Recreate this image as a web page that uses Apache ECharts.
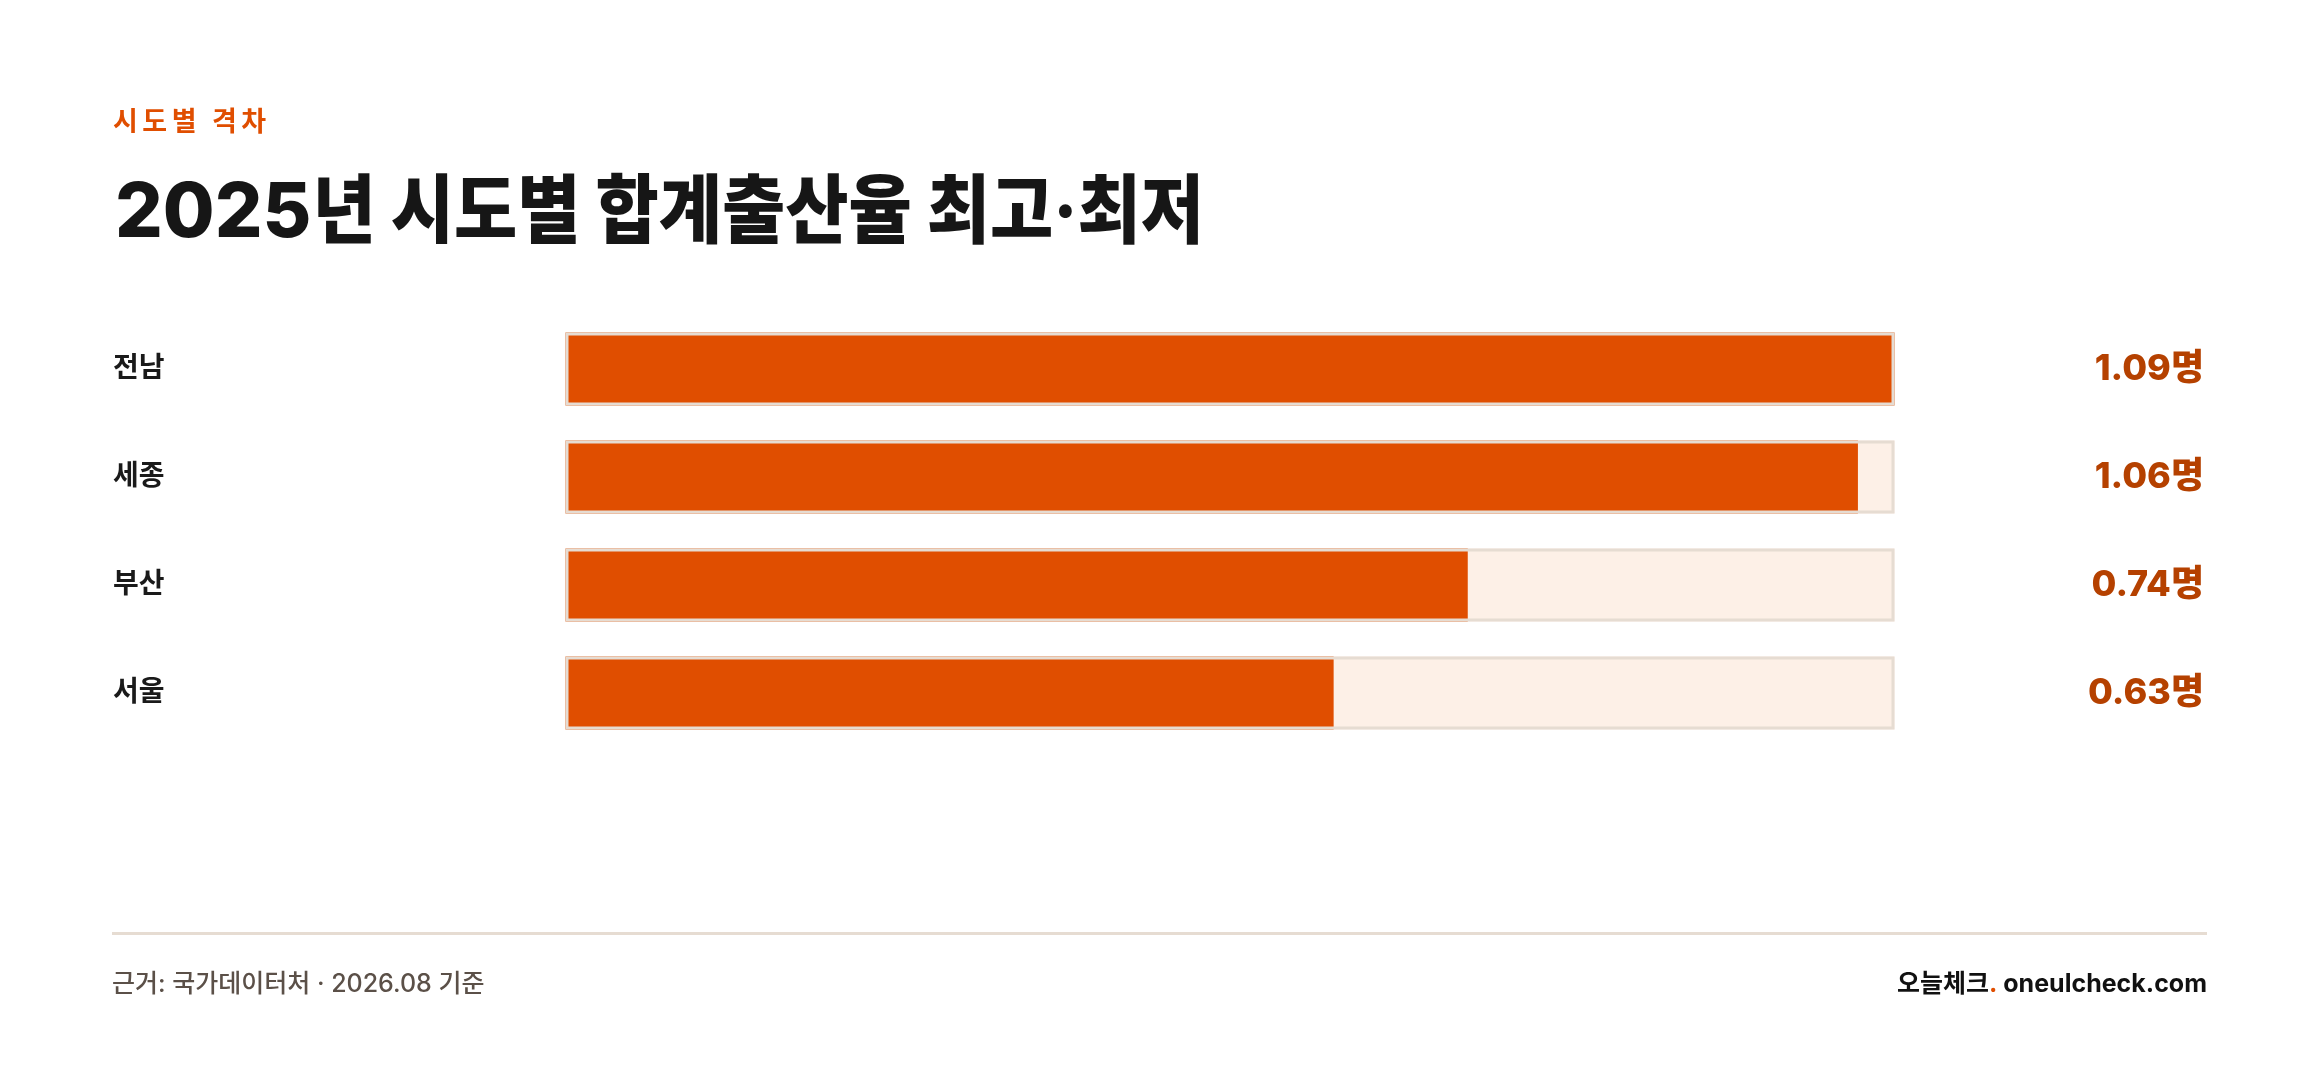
<!DOCTYPE html>
<html>
<head>
<meta charset="utf-8">
<script src="https://cdn.jsdelivr.net/npm/echarts@6/dist/echarts.min.js"></script>
<style>
html,body{margin:0;padding:0;background:#ffffff;}
#chart{width:2320px;height:1078px;}
</style>
</head>
<body>
<div id="chart"></div>
<script>
const regions = ['전남', '세종', '부산', '서울'];
const rates = [1.09, 1.06, 0.74, 0.63];
const valueLabels = ['1.09명', '1.06명', '0.74명', '0.63명'];
const scaleMax = 1.09;
const trackValues = [1.09, 1.09, 1.09, 1.09];

const FONT = "Inter, 'Noto Sans CJK KR', sans-serif";
const chart = echarts.init(document.getElementById('chart'), null, {renderer: 'canvas'});

const mctx = document.createElement('canvas').getContext('2d');
function measure(text, font) { mctx.font = font; return mctx.measureText(text).width; }

// Kicker with letter spacing: individual characters
const kicker = '시도별 격차';
const kFont = '700 27px ' + FONT;
const kSpacing = 4.5;
const kickerEls = [];
let kx = 113;
for (const ch of kicker) {
  kickerEls.push({type: 'text', x: kx, y: 123, style: {text: ch, font: kFont, fill: '#E04E00', verticalAlign: 'middle'}});
  kx += measure(ch, kFont) + kSpacing;
}

// Title: digits in Inter, Hangul part horizontally condensed
const tFont = '800 75px ' + FONT;
const tNum = '2025';
const tRest = '년 시도별 합계출산율 최고·최저';
const tNumW = measure(tNum, tFont);
const tRestX = 115 + tNumW + 1;
const tRestW = measure(tRest, tFont);
const tScale = (1204 - tRestX) / tRestW;

const option = {
  backgroundColor: '#ffffff',
  animation: false,
  grid: {left: 565.5, width: 1329, top: 315, height: 432, containLabel: false},
  xAxis: {type: 'value', min: 0, max: scaleMax, show: false},
  yAxis: [
    {
      type: 'category', data: regions, inverse: true,
      axisLine: {show: false}, axisTick: {show: false}, splitLine: {show: false},
      axisLabel: {
        align: 'left', margin: 452.5, padding: [9, 0, 0, 0],
        fontFamily: FONT, fontSize: 28, fontWeight: 700, color: '#1a1a1a'
      }
    },
    {
      type: 'category', data: valueLabels, inverse: true, position: 'right',
      axisLine: {show: false}, axisTick: {show: false}, splitLine: {show: false},
      axisLabel: {
        align: 'right', margin: 309.5, padding: [7, 0, 0, 0],
        fontFamily: FONT, fontSize: 36, fontWeight: 800, color: '#B54100'
      }
    }
  ],
  series: [
    {
      name: 'track', type: 'bar', data: trackValues, barWidth: 73, barGap: '-100%',
      itemStyle: {color: '#FDF0E7'}, silent: true, z: 1
    },
    {
      name: '합계출산율', type: 'bar', data: rates, barWidth: 73, barGap: '-100%',
      itemStyle: {color: '#E04E00'}, z: 2
    },
    {
      name: 'border', type: 'bar', data: trackValues, barWidth: 73, barGap: '-100%',
      itemStyle: {color: 'rgba(0,0,0,0)', borderColor: '#E6DCD2', borderWidth: 3}, silent: true, z: 3
    }
  ],
  graphic: [
    ...kickerEls,
    {
      type: 'text', x: 115, y: 214,
      style: {text: tNum, font: tFont, fill: '#161616', verticalAlign: 'middle'}
    },
    {
      type: 'text', x: tRestX, y: 214, scaleX: tScale,
      style: {text: tRest, font: tFont, fill: '#161616', verticalAlign: 'middle'}
    },
    {
      type: 'rect', shape: {x: 112, y: 932, width: 2095, height: 3},
      style: {fill: '#E6DCD2'}
    },
    {
      type: 'text', x: 112, y: 984,
      style: {text: '근거: 국가데이터처 · 2026.08 기준', font: '500 25px ' + FONT, fill: '#5B5048', verticalAlign: 'middle'}
    },
    {
      type: 'text', x: 2207, y: 984,
      style: {
        text: '{a|오늘체크}{d|.}{a| oneulcheck.com}',
        align: 'right', verticalAlign: 'middle',
        rich: {
          a: {font: '700 25px ' + FONT, fill: '#111111'},
          d: {font: '700 25px ' + FONT, fill: '#E04E00'}
        }
      }
    }
  ]
};
chart.setOption(option);
</script>
</body>
</html>
